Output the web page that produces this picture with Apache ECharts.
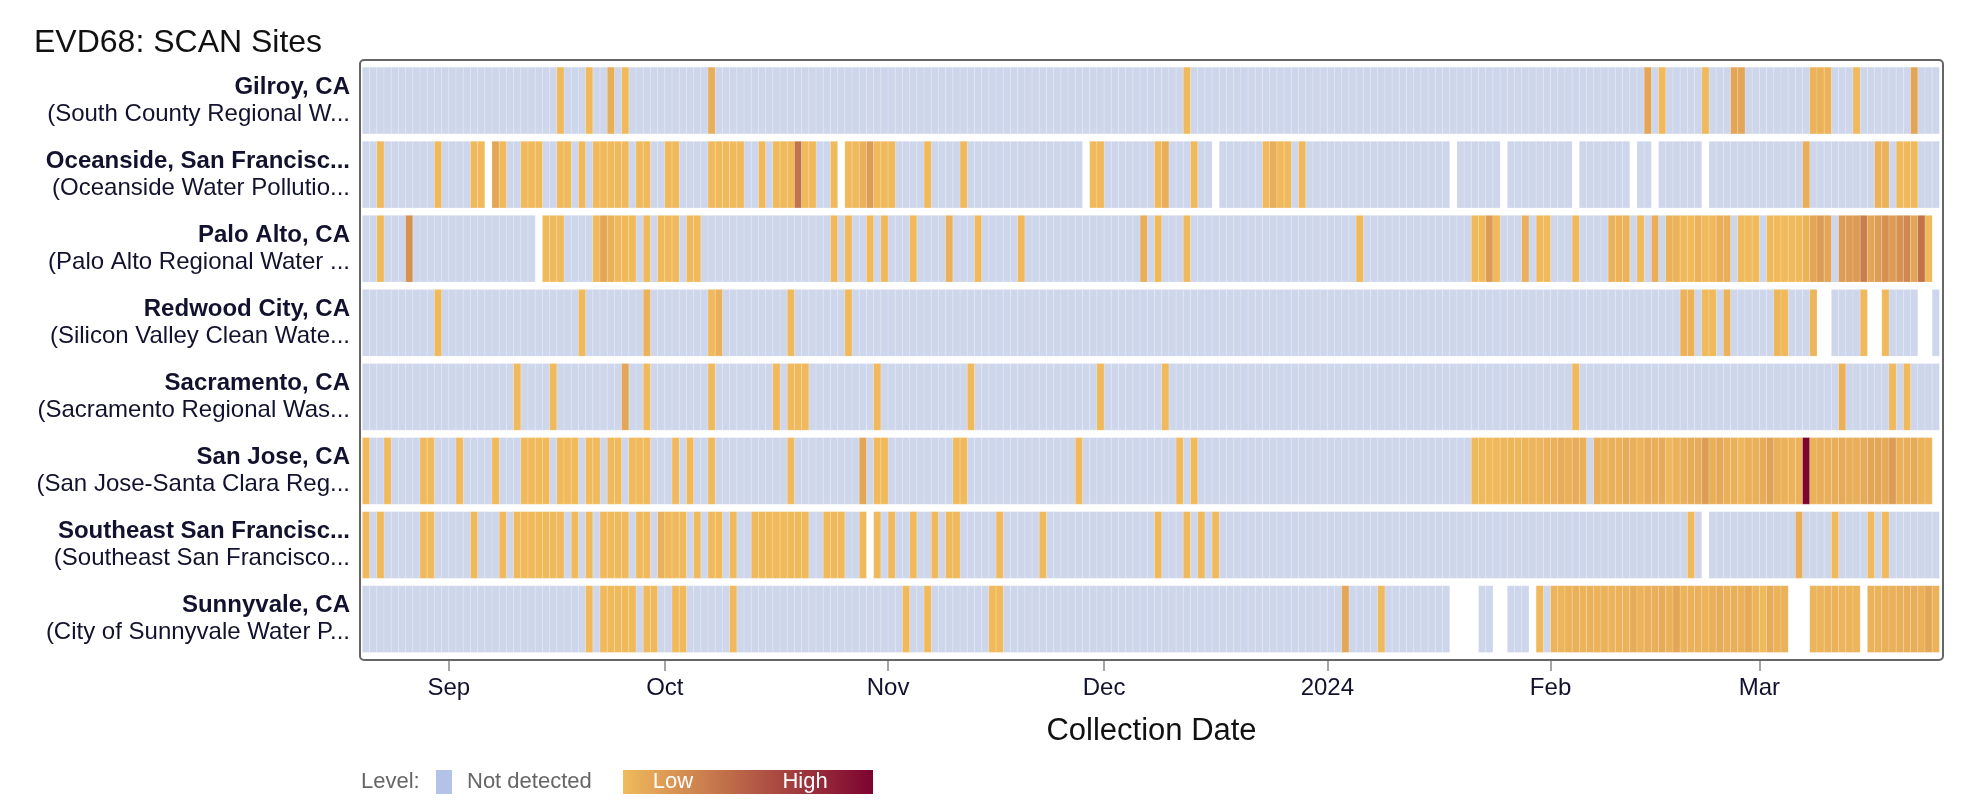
<!DOCTYPE html>
<html>
<head>
<meta charset="utf-8">
<script src="https://cdn.jsdelivr.net/npm/echarts@6/dist/echarts.min.js"></script>
<style>
html,body{margin:0;padding:0;background:#fff;}
#chart{width:1984px;height:810px;}
</style>
</head>
<body>
<div id="chart"></div>
<script>
// ---------------- DATA ----------------
// Day offsets are counted in days after 2023-09-01 (0 = Sep 1, -12 = Aug 20, 206 = Mar 25 2024)
const firstDayOffset = -12;
const lastDayOffset = 206;

const siteNames = ['Gilroy, CA', 'Oceanside, San Francisc...', 'Palo Alto, CA', 'Redwood City, CA',
  'Sacramento, CA', 'San Jose, CA', 'Southeast San Francisc...', 'Sunnyvale, CA'];
const facilityNames = ['(South County Regional W...', '(Oceanside Water Pollutio...', '(Palo Alto Regional Water ...',
  '(Silicon Valley Clean Wate...', '(Sacramento Regional Was...', '(San Jose-Santa Clara Reg...',
  '(Southeast San Francisco...', '(City of Sunnyvale Water P...'];

const monthTickDates = [[2023, 9, 1], [2023, 10, 1], [2023, 11, 1], [2023, 12, 1], [2024, 1, 1], [2024, 2, 1], [2024, 3, 1]];
const monthTickLabels = ['Sep', 'Oct', 'Nov', 'Dec', '2024', 'Feb', 'Mar'];

// detected days (level 1 unless listed in *Levels), missing days (no sample)
const gilroyDetected = [15,19,22,24,36,102,166,168,174,178,179,189,190,191,195,203];
const gilroyLevels = [[22,1.6],[36,1.6],[166,2],[178,2],[179,2],[189,1.4],[190,1.4],[191,1.4],[203,2]];
const gilroyMissing = [];

const oceansideDetected = [-10,-2,3,4,6,7,10,11,12,15,16,18,20,21,22,23,24,26,27,30,31,36,37,38,39,40,43,45,46,47,48,49,50,53,55,56,57,58,59,60,61,66,71,89,90,98,99,103,113,114,115,116,118,188,198,199,201,202,203];
const oceansideLevels = [[6,2],[48,4.5],[57,1.5],[58,2.5],[99,1.6],[114,1.6],[188,1.6],[198,1.4],[199,1.4]];
const oceansideMissing = [5,54,88,106,139,146,156,164,167,174];

const paloAltoDetected = [-10,-6,13,14,15,20,21,22,23,24,25,27,29,30,31,33,34,53,55,58,60,64,69,73,79,96,98,102,126,142,143,144,145,149,151,152,156,161,162,163,165,167,169,170,171,172,173,174,175,176,177,179,180,181,183,184,185,186,187,188,189,190,191,193,194,195,196,197,198,199,200,201,202,203,204,205];
const paloAltoLevels = [[-6,3],[21,2],[22,1.5],[69,1.5],[96,1.6],[144,2.5],[149,1.5],[161,1.4],[162,1.4],[163,1.4],[167,1.6],[169,1.4],[170,1.4],[173,1.4],[176,1.6],[177,1.6],[188,1.4],[189,2],[190,2.5],[191,2],[193,2.5],[194,2.5],[195,2.5],[196,4],[197,2],[198,2.5],[199,3],[200,2.5],[201,3],[202,3.5],[203,2],[204,4.5]];
const paloAltoMissing = [12,206];

const redwoodDetected = [-2,18,27,36,37,47,55,171,172,174,175,177,184,185,189,196,199];
const redwoodLevels = [[27,1.4],[37,1.5],[171,1.4],[172,1.4],[177,1.4],[184,1.2],[189,1.2]];
const redwoodMissing = [190,191,197,198,204,205];

const sacramentoDetected = [9,14,24,27,36,45,47,48,49,59,72,90,99,156,193,200,202];
const sacramentoLevels = [[24,2],[193,1.5]];
const sacramentoMissing = [];

const sanJoseDetected = [-12,-9,-4,-3,1,6,10,11,12,13,15,16,17,19,20,22,23,25,26,27,31,33,36,47,57,59,60,70,71,87,101,103,
  142,143,144,145,146,147,148,149,150,151,152,153,154,155,156,157,
  159,160,161,162,163,164,165,166,167,168,169,170,171,172,173,174,175,176,177,178,179,180,181,182,183,184,185,186,187,188,189,190,191,192,193,194,195,196,197,198,199,200,201,202,203,204,205];
const sanJoseLevels = [[57,2],[145,1.1],[146,1.2],[147,1.2],[148,1.2],[149,1.3],[150,1.3],[151,1.3],[152,1.4],[153,1.5],[154,1.7],[155,1.55],[156,1.7],[157,1.55],
  [159,1.55],[160,1.35],[161,1.55],[162,1.45],[163,1.7],[164,1.55],[165,1.35],[166,1.7],[167,1.55],[168,1.7],[169,1.1],[170,1.45],[171,1.55],[172,1.7],[173,1.7],[174,2.5],[175,1.55],[176,1.85],[177,1.55],[178,1.45],[179,1.15],[180,1.55],[181,1.55],[182,1.7],[183,2.2],[184,1.55],[185,1.4],[186,1.4],[187,1.4],[188,10],[189,1.4],[190,1.6],[191,1.6],[192,1.6],[193,1.8],[194,1.6],[195,1.6],[196,1.8],[197,2],[198,2],[199,1.8],[200,2.5],[201,1.5],[202,1.6],[203,1.8],[204,1.4],[205,1.3]];
const sanJoseMissing = [206];

const southeastDetected = [-12,-10,-4,-3,3,7,9,10,11,12,13,14,15,17,19,21,22,23,24,26,27,29,30,31,32,34,36,37,39,42,43,44,45,46,47,48,49,52,53,54,57,59,61,64,67,69,70,76,82,98,102,104,106,172,187,192,197,199];
const southeastLevels = [[29,1.5],[187,1.6]];
const southeastMissing = [58,174];

const sunnyvaleDetected = [19,21,22,23,24,25,27,28,31,32,39,63,66,75,76,124,129,151,
  153,154,155,156,157,158,159,160,161,162,163,164,165,166,167,168,169,170,171,172,173,174,175,176,177,178,179,180,181,182,183,184,185,
  189,190,191,192,193,194,195,197,198,199,200,201,202,203,204,205,206];
const sunnyvaleLevels = [[124,2],[153,1.3],[154,1.3],[155,1.4],[156,1.45],[157,1.35],[158,1.45],[159,1.35],[160,1.4],[161,1.35],[162,1.4],[163,1.4],[164,1.7],[165,1.35],[166,1.55],[167,1.55],[168,1.7],[169,1.45],[170,2],[171,1.35],[172,1.4],[173,1.45],[174,1.35],[175,1.55],[176,1.7],[177,1.45],[178,1.55],[179,1.45],[180,1.85],[181,1.35],[183,1.7],[184,1.4],[185,1.5],
  [189,1.3],[190,1.3],[191,1.4],[192,1.4],[193,1.3],[194,1.3],[195,1.3],[197,1.4],[198,1.4],[199,1.5],[200,1.5],[201,1.6],[202,1.6],[203,1.6],[204,1.5],[205,2],[206,1.4]];
const sunnyvaleMissing = [139,140,141,142,145,146,150,186,187,188,196];

const levelMin = 1;
const levelMax = 10;

// ---------------- BUILD ----------------
const siteDetected = [gilroyDetected, oceansideDetected, paloAltoDetected, redwoodDetected, sacramentoDetected, sanJoseDetected, southeastDetected, sunnyvaleDetected];
const siteLevels = [gilroyLevels, oceansideLevels, paloAltoLevels, redwoodLevels, sacramentoLevels, sanJoseLevels, southeastLevels, sunnyvaleLevels];
const siteMissing = [gilroyMissing, oceansideMissing, paloAltoMissing, redwoodMissing, sacramentoMissing, sanJoseMissing, southeastMissing, sunnyvaleMissing];

const dayStart = k => new Date(2023, 8, 1 + k).getTime();
const dayEnd = k => new Date(2023, 8, 2 + k).getTime();

const notDetectedCells = [];
const detectedCells = [];
siteNames.forEach((name, row) => {
  const det = new Set(siteDetected[row]);
  const miss = new Set(siteMissing[row]);
  const lv = new Map(siteLevels[row]);
  for (let k = firstDayOffset; k <= lastDayOffset; k++) {
    if (miss.has(k)) continue;
    if (det.has(k)) detectedCells.push([dayStart(k), dayEnd(k), row, lv.has(k) ? lv.get(k) : 1]);
    else notDetectedCells.push([dayStart(k), dayEnd(k), row]);
  }
});

const monthTickTimes = monthTickDates.map(d => new Date(d[0], d[1] - 1, d[2]).getTime());

const LOW_COLOR = '#F0BA5C';
const HIGH_COLOR = '#7D0330';
const NOT_DETECTED_COLOR = '#CED6EB';
const NOT_DETECTED_SWATCH = '#B3C2E6';
const TEXT_DARK = '#12122e';
const FONT = '"Liberation Sans", Arial, Helvetica, sans-serif';

const axisMin = new Date(2023, 7, 19, 16, 0).getTime();
const axisMax = new Date(2024, 2, 26, 12, 0).getTime();

const PLOT = { left: 360, top: 60, width: 1583, height: 600 };

function renderCell(params, api) {
  const row = api.value(2);
  const p0 = api.coord([api.value(0), row]);
  const p1 = api.coord([api.value(1), row]);
  const h = api.size([0, 1])[1] * 0.9;
  return {
    type: 'rect',
    shape: { x: p0[0], y: p0[1] - h / 2, width: p1[0] - p0[0], height: h },
    style: { fill: api.visual('color'), stroke: 'rgba(255,255,255,0.28)', lineWidth: 0.6 }
  };
}

const chart = echarts.init(document.getElementById('chart'), null, { renderer: 'canvas' });
chart.setOption({
  animation: false,
  backgroundColor: '#fff',
  textStyle: { fontFamily: FONT },
  title: {
    text: 'EVD68: SCAN Sites', left: 29, top: 22,
    textStyle: { fontSize: 32, fontWeight: 'normal', color: '#111', fontFamily: FONT }
  },
  grid: [
    { left: PLOT.left, width: PLOT.width, top: 63.5, height: 592.6, containLabel: false },
    { left: PLOT.left, width: PLOT.width, top: PLOT.top, height: PLOT.height, containLabel: false }
  ],
  xAxis: [
    { type: 'time', gridIndex: 0, min: axisMin, max: axisMax, show: false, splitLine: { show: false } },
    {
      type: 'value', gridIndex: 1, min: axisMin, max: axisMax, scale: true,
      axisLine: { show: false }, splitLine: { show: false },
      axisTick: { show: true, customValues: monthTickTimes, length: 11, lineStyle: { color: '#888', width: 1.5 } },
      axisLabel: {
        customValues: monthTickTimes, margin: 16, fontSize: 24, color: TEXT_DARK, fontFamily: FONT,
        formatter: v => { const i = monthTickTimes.indexOf(v); return i >= 0 ? monthTickLabels[i] : ''; }
      },
      name: 'Collection Date', nameLocation: 'middle', nameGap: 56,
      nameTextStyle: { fontSize: 31, color: '#111', fontFamily: FONT }
    }
  ],
  yAxis: [
    {
      type: 'category', gridIndex: 0, data: siteNames, inverse: true,
      axisLine: { show: false }, axisTick: { show: false }, splitLine: { show: false },
      axisLabel: {
        interval: 0, margin: 10, align: 'right',
        formatter: (v, i) => '{b|' + siteNames[i] + '}\n{n|' + facilityNames[i] + '}',
        rich: {
          b: { fontSize: 24, fontWeight: 'bold', lineHeight: 27, color: TEXT_DARK, fontFamily: FONT, align: 'right' },
          n: { fontSize: 24, lineHeight: 27, color: TEXT_DARK, fontFamily: FONT, align: 'right' }
        }
      }
    },
    { type: 'value', gridIndex: 1, show: false, min: 0, max: 1 }
  ],
  visualMap: {
    show: false, type: 'continuous', seriesIndex: 1, dimension: 3,
    min: levelMin, max: levelMax, inRange: { color: [LOW_COLOR, HIGH_COLOR] }
  },
  series: [
    {
      name: 'Not detected', type: 'custom', xAxisIndex: 0, yAxisIndex: 0,
      renderItem: renderCell, encode: { x: [0, 1], y: 2 },
      itemStyle: { color: NOT_DETECTED_COLOR }, data: notDetectedCells, silent: true
    },
    {
      name: 'Detected', type: 'custom', xAxisIndex: 0, yAxisIndex: 0,
      renderItem: renderCell, encode: { x: [0, 1], y: 2 },
      data: detectedCells, silent: true
    }
  ],
  graphic: [
    {
      type: 'rect', silent: true, z: 10,
      shape: { x: PLOT.left, y: PLOT.top, width: PLOT.width, height: PLOT.height, r: 4 },
      style: { fill: 'none', stroke: '#666', lineWidth: 2 }
    },
    { type: 'text', x: 361, y: 782, style: { text: 'Level:', font: '22px ' + FONT, fill: '#666', verticalAlign: 'middle' } },
    { type: 'rect', shape: { x: 436, y: 770, width: 16, height: 24 }, style: { fill: NOT_DETECTED_SWATCH } },
    { type: 'text', x: 467, y: 782, style: { text: 'Not detected', font: '22px ' + FONT, fill: '#666', verticalAlign: 'middle' } },
    {
      type: 'rect', shape: { x: 623, y: 770, width: 250, height: 24 },
      style: { fill: new echarts.graphic.LinearGradient(0, 0, 1, 0, [{ offset: 0, color: LOW_COLOR }, { offset: 1, color: HIGH_COLOR }]) }
    },
    { type: 'text', x: 673, y: 782, style: { text: 'Low', font: '22px ' + FONT, fill: '#fff', align: 'center', verticalAlign: 'middle' } },
    { type: 'text', x: 805, y: 782, style: { text: 'High', font: '22px ' + FONT, fill: '#fff', align: 'center', verticalAlign: 'middle' } }
  ]
});
</script>
</body>
</html>
